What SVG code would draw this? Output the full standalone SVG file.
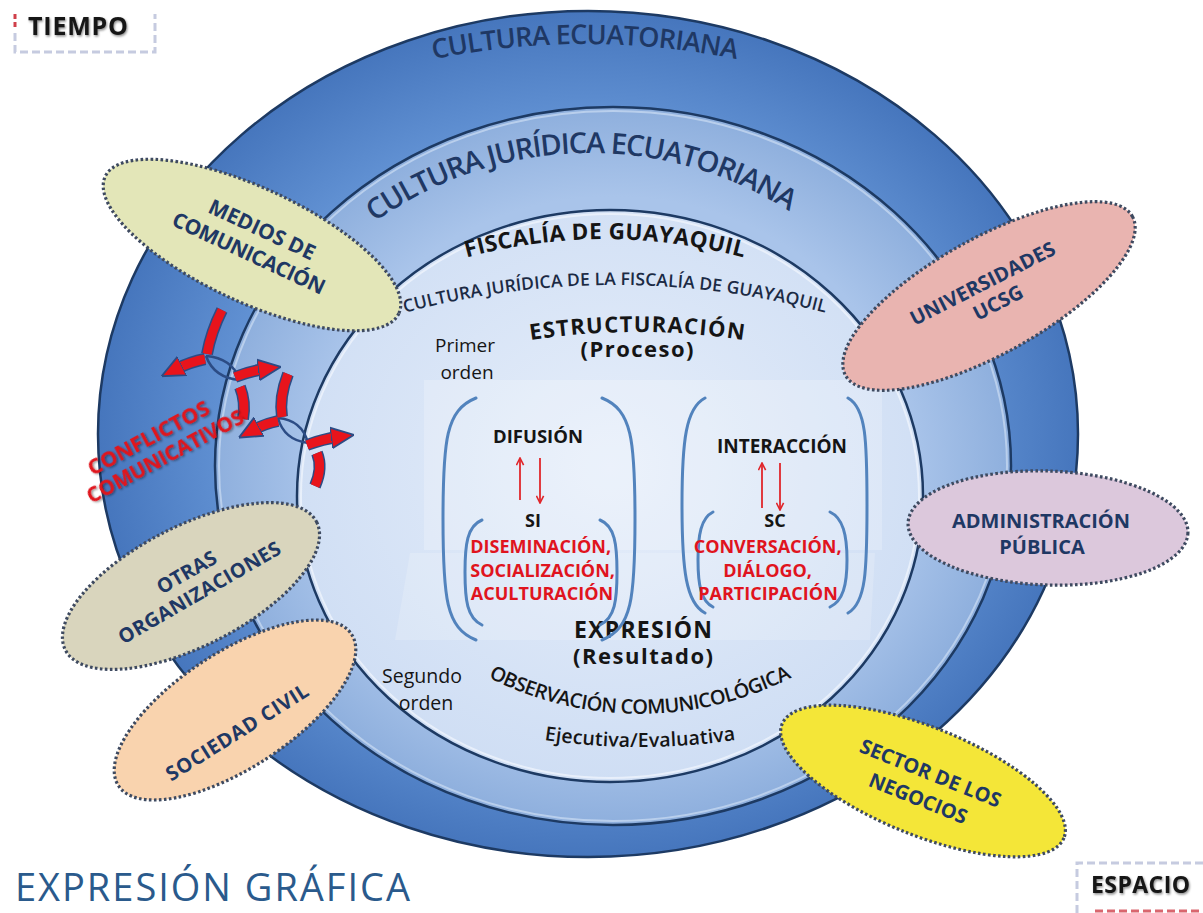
<svg xmlns="http://www.w3.org/2000/svg" width="1203" height="913" viewBox="0 0 1203 913">
<defs>
<style>
.t{font-family:"Open Sans","Liberation Sans",sans-serif;}
.b{font-weight:700;}
.sb{font-weight:600;}
.nav{fill:#1f3864;}
.blk{fill:#151515;}
.red{fill:#e0141e;}
.mid{text-anchor:middle;}
.node ellipse{stroke:#3e4a60;stroke-width:3.2;stroke-dasharray:2.6 2.4;}
.ring{stroke:#1d3a63;stroke-width:2.5;}
.brk{fill:none;stroke:#5283bd;stroke-width:3;stroke-linecap:round;}
.ra{fill:none;stroke:#e0262b;stroke-width:1.8;}
.cu{fill:none;stroke:#2c4c85;stroke-width:12;}
.cr{fill:none;stroke:#e8141c;stroke-width:9;}
.lens{fill:none;stroke:#2c4c85;stroke-width:2.5;}
</style>
<radialGradient id="gOuter" cx="0.5" cy="0.5" r="0.5">
<stop offset="0.75" stop-color="#6090d2"/>
<stop offset="1" stop-color="#4676bd"/>
</radialGradient>
<radialGradient id="gMid" cx="0.5" cy="0.5" r="0.5">
<stop offset="0.75" stop-color="#a9c4ea"/>
<stop offset="1" stop-color="#8eafdd"/>
</radialGradient>
<radialGradient id="gInner" cx="0.5" cy="0.45" r="0.55">
<stop offset="0" stop-color="#e6eefa"/>
<stop offset="1" stop-color="#cfdef4"/>
</radialGradient>
<marker id="ra" viewBox="0 0 10 10" refX="9" refY="5" markerWidth="9" markerHeight="9" markerUnits="userSpaceOnUse" orient="auto">
<path d="M1 1 L9 5 L1 9" fill="none" stroke="#e0262b" stroke-width="1.8"/>
</marker>
<marker id="ca" viewBox="0 0 10 10" refX="3" refY="5" markerWidth="23" markerHeight="23" markerUnits="userSpaceOnUse" orient="auto">
<path d="M0 0.5 L10 5 L0 9.5 Z" fill="#e8141c" stroke="#2c4c85" stroke-width="0.8"/>
</marker>
<filter id="sh" x="-10%" y="-10%" width="120%" height="130%">
<feDropShadow dx="1" dy="1.5" stdDeviation="1" flood-color="#000" flood-opacity="0.45"/>
</filter>
<path id="p1" d="M 285 105.7 A 760 760 0 0 1 885 105.7"/>
<path id="p2" d="M 306.6 285.2 A 370 370 0 0 1 873.4 285.2"/>
<path id="p3" d="M 301 335 A 530 530 0 0 1 909 335"/>
<path id="p4" d="M 210 393.5 A 810 810 0 0 1 1020 393.5"/>
<path id="p5" d="M 397.6 374.2 A 700 700 0 0 1 876.4 374.2"/>
<path id="p6" d="M 350 546.5 A 335 335 0 0 0 930 546.5"/>
<path id="p7" d="M 417.7 707.8 A 650 650 0 0 0 862.3 707.8"/>
</defs>

<rect width="1203" height="913" fill="#ffffff"/>

<g id="rings">
<ellipse class="ring" cx="588" cy="434" rx="490" ry="423" fill="url(#gOuter)"/>
<ellipse class="ring" cx="613" cy="466" rx="398" ry="359" fill="url(#gMid)"/>
<ellipse cx="613" cy="466" rx="394" ry="355" fill="none" stroke="#d6e4f7" stroke-width="2" opacity="0.6"/>
<ellipse class="ring" cx="610" cy="496" rx="313" ry="286" fill="url(#gInner)"/>
<ellipse cx="610" cy="496" rx="309" ry="282" fill="none" stroke="#f2f7fd" stroke-width="2" opacity="0.7"/>
<rect x="424" y="380" width="458" height="170" fill="#ffffff" opacity="0.22"/>
<path d="M 410 553 L 875 553 L 870 640 L 395 640 Z" fill="#ffffff" opacity="0.18"/>
</g>

<g id="ring-labels">
<text class="t sb nav" font-size="27"><textPath href="#p1" startOffset="50%" text-anchor="middle" textLength="305">CULTURA ECUATORIANA</textPath></text>
<text class="t sb nav" font-size="29"><textPath href="#p2" startOffset="48.5%" text-anchor="middle" textLength="440">CULTURA JURÍDICA  ECUATORIANA</textPath></text>
<text class="t b blk" font-size="22.5"><textPath href="#p3" startOffset="50%" text-anchor="middle" textLength="280">FISCALÍA DE GUAYAQUIL</textPath></text>
<text class="t sb" fill="#1b2a44" font-size="17.5"><textPath href="#p4" startOffset="50%" text-anchor="middle" textLength="425">CULTURA JURÍDICA  DE LA FISCALÍA DE GUAYAQUIL</textPath></text>
</g>

<g id="center">
<text class="t b blk" font-size="22"><textPath href="#p5" startOffset="50%" text-anchor="middle" textLength="214">ESTRUCTURACIÓN</textPath></text>
<text class="t b blk mid" x="637" y="357" font-size="22" textLength="113">(Proceso)</text>
<text class="t blk mid" x="465" y="352" font-size="19">Primer</text>
<text class="t blk mid" x="467" y="379" font-size="19">orden</text>
<text class="t b blk mid" x="643" y="638" font-size="23" textLength="138">EXPRESIÓN</text>
<text class="t b blk mid" x="643" y="664" font-size="22" textLength="140">(Resultado)</text>
<text class="t blk mid" x="422" y="683" font-size="19.5">Segundo</text>
<text class="t blk mid" x="426" y="710" font-size="19.5">orden</text>
<text class="t sb blk" font-size="20"><textPath href="#p6" startOffset="50%" text-anchor="middle" textLength="315">OBSERVACIÓN COMUNICOLÓGICA</textPath></text>
<text class="t sb blk" font-size="19.5"><textPath href="#p7" startOffset="50%" text-anchor="middle" textLength="192">Ejecutiva/Evaluativa</textPath></text>
</g>

<g id="difusion">
<path class="brk" d="M 476 398 C 446 410 443 440 443 519 C 443 598 446 628 476 640"/>
<path class="brk" d="M 602 398 C 632 410 635 440 635 519 C 635 598 632 628 602 640"/>
<path class="brk" d="M 482 520 C 467 526 465 545 465 572 C 465 600 467 618 482 625"/>
<path class="brk" d="M 600 520 C 615 526 617 545 617 572 C 617 600 615 618 600 625"/>
<text class="t b blk mid" x="538" y="443" font-size="18.5">DIFUSIÓN</text>
<text class="t b blk mid" x="533" y="527" font-size="18">SI</text>
<text class="t b red mid" font-size="18">
<tspan x="543" y="553">DISEMINACIÓN,</tspan>
<tspan x="545" y="577">SOCIALIZACIÓN,</tspan>
<tspan x="542" y="600">ACULTURACIÓN</tspan>
</text>
</g>

<g id="interaccion">
<path class="brk" d="M 705 398 C 686 408 682 440 682 505 C 682 570 686 603 705 613"/>
<path class="brk" d="M 848 398 C 866 408 867 440 867 505 C 867 570 866 603 848 613"/>
<path class="brk" d="M 713 512 C 701 518 698 535 698 560 C 698 585 701 601 713 607"/>
<path class="brk" d="M 830 512 C 843 518 847 535 847 560 C 847 585 843 601 830 607"/>
<text class="t b blk mid" x="782" y="453" font-size="19">INTERACCIÓN</text>
<text class="t b blk mid" x="775" y="527" font-size="18">SC</text>
<text class="t b red mid" font-size="18">
<tspan x="770" y="553">CONVERSACIÓN,</tspan>
<tspan x="770" y="577">DIÁLOGO,</tspan>
<tspan x="768" y="600">PARTICIPACIÓN</tspan>
</text>
</g>

<g id="connectors">
<path class="ra" d="M 520 500 L 520 458" marker-end="url(#ra)"/>
<path class="ra" d="M 540 458 L 540 503" marker-end="url(#ra)"/>
<path class="ra" d="M 762 508 L 762 463" marker-end="url(#ra)"/>
<path class="ra" d="M 780 463 L 780 510" marker-end="url(#ra)"/>
</g>

<g id="medios" class="node">
<ellipse cx="252" cy="245" rx="162" ry="57" transform="rotate(25 252 245)" fill="#e3e6b8"/>
<g transform="translate(255,240) rotate(25)">
<text class="t b nav mid" x="2" y="-5" font-size="21">MEDIOS DE</text>
<text class="t b nav mid" x="0" y="22" font-size="21" textLength="166">COMUNICACIÓN</text>
</g>
</g>

<g id="universidades" class="node">
<ellipse cx="989" cy="296" rx="164" ry="58" transform="rotate(-29 989 296)" fill="#e9b4b0"/>
<g transform="translate(989,296) rotate(-27)">
<text class="t b nav mid" x="0" y="-7" font-size="20" textLength="160">UNIVERSIDADES</text>
<text class="t b nav mid" x="5" y="17" font-size="20">UCSG</text>
</g>
</g>

<g id="administracion" class="node">
<ellipse cx="1048" cy="528" rx="140" ry="57" transform="rotate(2 1048 528)" fill="#dcc8dc"/>
<text class="t b nav mid" x="1041" y="528" font-size="20" textLength="178">ADMINISTRACIÓN</text>
<text class="t b nav mid" x="1042" y="554" font-size="20">PÚBLICA</text>
</g>

<g id="otras" class="node">
<ellipse cx="191" cy="586" rx="141" ry="60" transform="rotate(-27 191 586)" fill="#d9d5bd"/>
<g transform="translate(191,586) rotate(-30)">
<text class="t b nav mid" x="3" y="-7" font-size="20">OTRAS</text>
<text class="t b nav mid" x="4" y="17" font-size="20" textLength="184">ORGANIZACIONES</text>
</g>
</g>

<g id="sociedad" class="node">
<ellipse cx="235" cy="710" rx="139" ry="58" transform="rotate(-33 235 710)" fill="#f9d3ae"/>
<g transform="translate(235,710) rotate(-32)">
<text class="t b nav mid" x="-10" y="27" font-size="20" textLength="164">SOCIEDAD CIVIL</text>
</g>
</g>

<g id="sector" class="node">
<ellipse cx="923" cy="781" rx="152" ry="54" transform="rotate(22 923 781)" fill="#f4e638"/>
<g transform="translate(923,781) rotate(22)">
<text class="t b nav mid" x="4" y="-3" font-size="20" textLength="150">SECTOR DE LOS</text>
<text class="t b nav mid" x="2" y="25" font-size="20">NEGOCIOS</text>
</g>
</g>

<g id="conflictos">
<path class="lens" d="M 206 356 Q 232 358 240 380"/>
<path class="lens" d="M 206 356 Q 214 378 240 380"/>
<path class="lens" d="M 278 418 Q 302 420 308 443"/>
<path class="lens" d="M 278 418 Q 284 440 308 443"/>
<path class="cu" d="M 222 310 Q 211 332 207 354"/>
<path class="cr" d="M 222 310 Q 211 332 207 354"/>
<path class="cu" d="M 205 359 Q 190 362 176 369"/>
<path class="cr" d="M 205 359 Q 190 362 176 369" marker-end="url(#ca)"/>
<path class="cu" d="M 235 377 Q 250 371 265 369"/>
<path class="cr" d="M 235 377 Q 250 371 265 369" marker-end="url(#ca)"/>
<path class="cu" d="M 240 387 Q 246 402 243 419"/>
<path class="cr" d="M 240 387 Q 246 402 243 419"/>
<path class="cu" d="M 288 374 Q 279 397 282 417"/>
<path class="cr" d="M 288 374 Q 279 397 282 417"/>
<path class="cu" d="M 278 421 Q 264 424 253 430"/>
<path class="cr" d="M 278 421 Q 264 424 253 430" marker-end="url(#ca)"/>
<path class="cu" d="M 307 445 Q 323 439 338 437"/>
<path class="cr" d="M 307 445 Q 323 439 338 437" marker-end="url(#ca)"/>
<path class="cu" d="M 317 453 Q 323 468 315 486"/>
<path class="cr" d="M 317 453 Q 323 468 315 486"/>
<g transform="translate(160,447) rotate(-28)" filter="url(#sh)">
<text class="t b red mid" x="-6" y="-6" font-size="21.5">CONFLICTOS</text>
<text class="t b red mid" x="0" y="18" font-size="20.5">COMUNICATIVOS</text>
</g>
</g>

<g id="tiempo">
<path d="M 15 14 L 15 30" stroke="#d0404a" stroke-width="3" stroke-dasharray="5 3" fill="none"/>
<path d="M 15 33 L 15 52 L 155 52 L 155 14" stroke="#c6cbe0" stroke-width="3" stroke-dasharray="8 4" fill="none"/>
<text class="t b blk" x="28" y="35" font-size="25" textLength="100" filter="url(#sh)">TIEMPO</text>
</g>

<g id="espacio">
<path d="M 1077 913 L 1077 863 L 1203 863" stroke="#c6cbe0" stroke-width="3" stroke-dasharray="8 4" fill="none"/>
<path d="M 1095 911 L 1203 911" stroke="#d0404a" stroke-width="3" stroke-dasharray="8 4" fill="none" opacity="0.8"/>
<text class="t b blk" x="1091" y="893" font-size="23" textLength="99" filter="url(#sh)">ESPACIO</text>
</g>

<g id="title">
<text class="t" x="15" y="901" font-size="38" font-weight="500" fill="#2a5a8c" textLength="395">EXPRESIÓN GRÁFICA</text>
</g>
</svg>
